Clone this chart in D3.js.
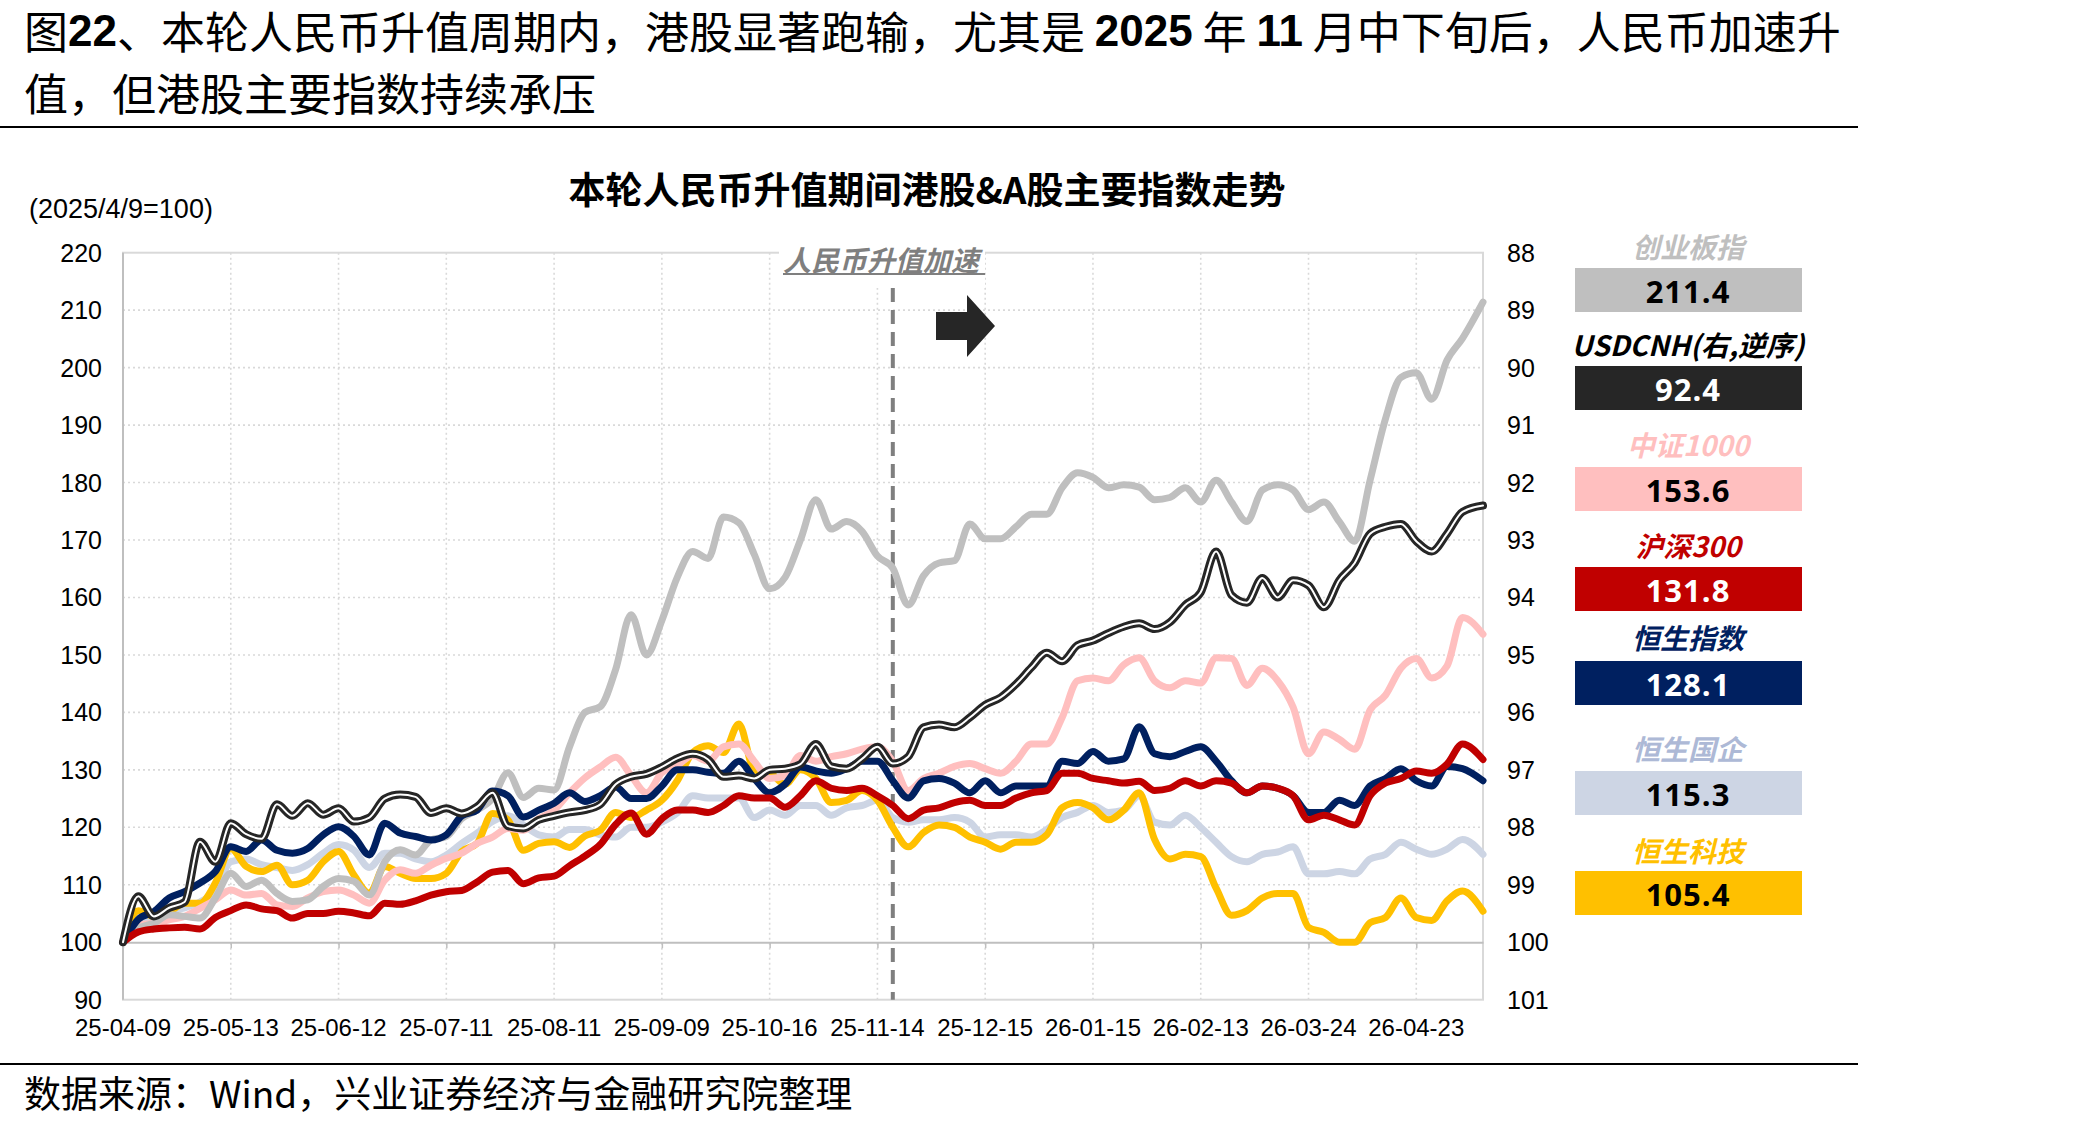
<!DOCTYPE html>
<html>
<head>
<meta charset="utf-8">
<script src="https://cdn.jsdelivr.net/npm/d3@7"></script>
<style>
  body { margin: 0; background: #fff; }
  svg { display: block; }
  text { font-family: "Liberation Sans", Arial, sans-serif; }
  .cjk { font-family: "Noto Sans CJK SC", "Liberation Sans", sans-serif; }
</style>
</head>
<body>
<svg id="chart" width="2073" height="1127"></svg>
<script>
// ---- data (one value every 3 trading days from 2025-04-09) ----
const xTickLabels = ['25-04-09', '25-05-13', '25-06-12', '25-07-11', '25-08-11', '25-09-09', '25-10-16',
  '25-11-14', '25-12-15', '26-01-15', '26-02-13', '26-03-24', '26-04-23']
const leftTicks = [90, 100, 110, 120, 130, 140, 150, 160, 170, 180, 190, 200, 210, 220]
const rightTicks = [88, 89, 90, 91, 92, 93, 94, 95, 96, 97, 98, 99, 100, 101]

// 创业板指
const chinext = [100, 102.4, 103.3, 104.8, 104.5, 104.2, 107.7, 112.0, 109.7, 110.8,
  108.5, 107.1, 107.4, 109.7, 111.1, 110.6, 108.2, 114.0, 116.1, 115.2,
  117.8, 118.4, 121.5, 123.0, 125.0, 129.5, 125.2, 126.8, 126.5, 134.0,
  140.0, 141.0, 147.5, 157.0, 150.0, 156.0, 163.5, 168.0, 166.8, 174.0,
  173.0, 167.5, 161.5, 163.5, 170.0, 177.0, 171.9, 173.2, 171.5, 167.2,
  165.1, 158.7, 163.8, 166.0, 166.4, 172.8, 170.2, 170.2, 172.3, 174.5,
  174.5, 179.1, 181.7, 180.9, 179.1, 179.6, 179.2, 177.0, 177.4, 179.1,
  176.6, 180.4, 176.6, 173.2, 178.7, 179.6, 178.7, 175.3, 176.6, 173.2,
  169.8, 180.4, 191.1, 198.3, 199.1, 194.5, 201.3, 205.1, 211.4]
// USDCNH, right axis (reversed)
const usdcnh = [100.00, 99.20, 99.55, 99.40, 99.30, 98.25, 98.60, 97.93, 98.12, 98.20,
  97.60, 97.80, 97.58, 97.78, 97.67, 97.90, 97.83, 97.50, 97.43, 97.47,
  97.75, 97.67, 97.76, 97.64, 97.40, 97.98, 98.02, 97.87, 97.80, 97.74,
  97.70, 97.60, 97.25, 97.12, 97.07, 96.95, 96.80, 96.72, 96.82, 97.12,
  97.10, 97.15, 97.00, 96.98, 96.90, 96.55, 96.94, 96.98, 96.81, 96.60,
  96.89, 96.77, 96.26, 96.21, 96.26, 96.09, 95.87, 95.74, 95.51, 95.22,
  94.96, 95.11, 94.83, 94.75, 94.62, 94.51, 94.45, 94.55, 94.43, 94.13,
  93.91, 93.20, 93.96, 94.09, 93.66, 94.00, 93.70, 93.79, 94.17, 93.70,
  93.40, 92.89, 92.77, 92.72, 93.02, 93.20, 92.89, 92.51, 92.40]
// 中证1000
const csi1000 = [100, 103.0, 103.3, 103.9, 104.5, 105.9, 107.4, 109.1, 108.2, 108.5,
  106.5, 106.2, 107.7, 108.8, 109.1, 108.2, 106.8, 110.8, 112.6, 112.0,
  113.4, 114.6, 115.5, 117.2, 118.3, 119.8, 119.5, 121.5, 123.0, 126.0,
  128.6, 130.5, 132.2, 129.0, 126.0, 129.5, 130.8, 132.5, 131.5, 134.0,
  134.5, 131.5, 128.5, 129.0, 132.5, 131.5, 132.3, 132.8, 133.6, 134.0,
  131.5, 126.4, 128.5, 129.4, 130.6, 131.1, 130.2, 129.4, 131.5, 134.5,
  134.5, 139.1, 145.5, 146.0, 145.5, 148.3, 149.5, 145.5, 144.3, 145.5,
  145.1, 149.5, 149.4, 144.7, 147.7, 145.5, 140.9, 132.8, 136.6, 135.3,
  133.6, 140.4, 143.0, 147.7, 149.4, 146.0, 148.1, 156.5, 153.6]
// 沪深300
const hs300 = [100, 101.8, 102.3, 102.5, 102.6, 102.3, 104.3, 105.5, 106.5, 105.8,
  105.5, 104.2, 105.0, 105.0, 105.4, 105.1, 104.6, 106.8, 106.6, 107.2,
  108.2, 108.8, 109.0, 110.5, 112.2, 112.5, 110.2, 111.2, 111.5, 113.3,
  115.0, 117.0, 120.5, 122.5, 118.8, 121.5, 123.0, 123.0, 122.6, 123.8,
  125.5, 125.1, 125.1, 123.5, 125.5, 128.1, 126.8, 126.4, 126.8, 125.5,
  123.8, 121.5, 123.0, 123.4, 124.3, 124.7, 123.8, 123.8, 125.1, 126.0,
  126.4, 129.4, 129.4, 128.5, 128.1, 127.7, 128.0, 126.4, 126.8, 128.1,
  127.2, 128.1, 127.7, 126.0, 127.2, 126.8, 125.5, 121.3, 122.1, 121.3,
  120.4, 125.5, 127.7, 128.5, 129.8, 129.4, 131.0, 134.5, 131.8]
// 恒生指数
const hsi = [100, 104.0, 105.3, 107.7, 108.8, 110.3, 112.3, 116.6, 115.8, 117.8,
  116.0, 115.5, 116.3, 118.7, 120.1, 118.4, 115.2, 120.7, 119.0, 118.4,
  117.8, 118.7, 122.0, 123.0, 126.3, 125.5, 121.8, 123.0, 124.2, 126.0,
  124.5, 125.5, 127.0, 125.0, 125.0, 127.2, 130.0, 130.0, 129.6, 129.4,
  131.5, 128.5, 126.0, 127.5, 130.5, 129.8, 129.4, 130.2, 131.5, 131.5,
  128.1, 125.1, 128.1, 128.5, 127.7, 126.0, 128.1, 126.0, 127.2, 127.2,
  127.2, 131.5, 131.1, 133.2, 131.5, 131.9, 137.5, 132.8, 132.3, 133.2,
  134.0, 131.5, 128.1, 126.0, 127.2, 126.8, 125.5, 122.6, 122.6, 124.7,
  123.8, 127.2, 128.5, 130.2, 128.1, 127.2, 130.6, 130.2, 128.1]
// 恒生国企
const hscei = [100, 103.0, 104.2, 105.5, 106.0, 107.0, 109.0, 114.0, 114.5, 113.5,
  113.0, 112.5, 113.5, 115.5, 117.0, 116.0, 113.0, 115.5, 115.5, 114.5,
  114.0, 115.2, 117.2, 119.0, 121.0, 122.0, 120.4, 118.7, 118.3, 119.6,
  119.6, 118.7, 118.3, 120.0, 120.0, 120.9, 122.5, 125.5, 125.1, 125.1,
  125.1, 121.7, 123.0, 122.1, 123.8, 123.8, 122.1, 123.4, 123.8, 124.7,
  121.7, 120.9, 121.3, 121.3, 121.7, 120.9, 118.3, 118.7, 118.7, 118.3,
  119.6, 121.7, 122.6, 123.8, 122.6, 123.0, 125.5, 120.9, 120.4, 122.1,
  120.0, 117.4, 114.9, 114.0, 115.3, 115.7, 116.6, 111.9, 111.9, 112.3,
  111.9, 114.5, 115.3, 117.4, 116.2, 115.3, 116.2, 117.9, 115.3]
// 恒生科技
const hstech = [100, 105.5, 104.5, 105.3, 106.8, 106.8, 110.3, 116.3, 113.2, 112.3,
  113.4, 110.0, 110.8, 114.0, 115.8, 111.7, 108.5, 113.2, 112.0, 111.1,
  111.1, 112.0, 115.8, 117.2, 122.4, 121.3, 116.0, 117.2, 117.5, 116.5,
  118.5, 119.5, 122.6, 121.7, 123.0, 124.7, 128.1, 133.0, 134.2, 133.0,
  138.0, 130.0, 129.5, 127.5, 130.0, 128.5, 124.3, 124.7, 126.4, 124.7,
  120.0, 116.6, 119.1, 120.4, 120.0, 118.3, 117.4, 116.2, 117.4, 117.4,
  118.7, 123.4, 124.3, 123.4, 121.3, 123.0, 126.0, 117.9, 114.5, 115.3,
  114.9, 109.4, 104.7, 105.5, 107.7, 108.5, 108.5, 102.6, 101.7, 100.0,
  100.0, 103.4, 104.3, 107.7, 104.3, 103.8, 107.2, 108.9, 105.4]

// trading-day index of each sample; ticks every 21 trading days
const sampleDay = d3.range(0, 262, 3).concat(265)
const tickDay = xTickLabels.map((d, i) => i * 21)
const accelDay = 150   // 人民币升值加速 starts here

// ---- styles ----
const series = [
  {name: '恒生国企', values: hscei, color: '#CDD5E4', label: '#ADB9D6', txt: '#000', axis: 'L'},
  {name: '恒生科技', values: hstech, color: '#FFC000', label: '#FFC000', txt: '#000', axis: 'L'},
  {name: '中证1000', values: csi1000, color: '#FFBFBF', label: '#FFBFBF', txt: '#000', axis: 'L'},
  {name: '创业板指', values: chinext, color: '#BFBFBF', label: '#BFBFBF', txt: '#000', axis: 'L'},
  {name: '恒生指数', values: hsi, color: '#002060', label: '#002060', txt: '#fff', axis: 'L'},
  {name: '沪深300', values: hs300, color: '#C00000', label: '#C00000', txt: '#fff', axis: 'L'},
  {name: 'USDCNH(右,逆序)', values: usdcnh, color: '#262626', label: '#000', txt: '#fff', axis: 'R'}
]
const legendOrder = ['创业板指', 'USDCNH(右,逆序)', '中证1000', '沪深300', '恒生指数', '恒生国企', '恒生科技']
const legendLabelY = [246, 344, 444, 545, 637, 748, 850]
const legendBoxY = [268, 366, 467, 567, 661, 771, 871]

const svg = d3.select('#chart')
const plotL = 123, plotR = 1483, plotT = 252.7, plotB = 999.7

svg.append('rect').attr('width', 2073).attr('height', 1127).attr('fill', '#fff')

const x = d3.scaleLinear().domain([0, 265]).range([plotL, plotR])
const y = d3.scaleLinear().domain([90, 220]).range([plotB, plotT])
const yR = d3.scaleLinear().domain([101, 88]).range([plotB, plotT])

// header
const t1 = svg.append('text').attr('class', 'cjk').attr('x', 24).attr('y', 30)
  .attr('dominant-baseline', 'central').attr('font-size', 44).attr('fill', '#000')
const t1parts = [['图', 0], ['22', 1], ['、本轮人民币升值周期内，港股显著跑输，尤其是 ', 0], ['2025', 1],
  [' 年 ', 0], ['11', 1], [' 月中下旬后，人民币加速升', 0]]
t1parts.forEach(p => {
  t1.append('tspan').text(p[0])
    .attr('font-weight', p[1] ? 'bold' : 'normal')
    .style('font-family', p[1] ? '"Liberation Sans", Arial, sans-serif' : null)
})
svg.append('text').attr('class', 'cjk').attr('x', 24).attr('y', 92)
  .attr('dominant-baseline', 'central').attr('font-size', 44).attr('fill', '#000')
  .text('值，但港股主要指数持续承压')
svg.append('line').attr('x1', 0).attr('x2', 1858).attr('y1', 127).attr('y2', 127)
  .attr('stroke', '#000').attr('stroke-width', 2)
svg.append('line').attr('x1', 0).attr('x2', 1858).attr('y1', 1064).attr('y2', 1064)
  .attr('stroke', '#000').attr('stroke-width', 2)
svg.append('text').attr('class', 'cjk').attr('x', 24).attr('y', 1092)
  .attr('dominant-baseline', 'central').attr('font-size', 37).attr('fill', '#000')
  .text('数据来源：Wind，兴业证券经济与金融研究院整理')

// chart title + unit
svg.append('text').attr('class', 'cjk').attr('x', 927).attr('y', 188)
  .attr('text-anchor', 'middle').attr('dominant-baseline', 'central')
  .attr('font-size', 37).attr('font-weight', 'bold').text('本轮人民币升值期间港股&A股主要指数走势')
svg.append('text').attr('x', 29).attr('y', 209).attr('dominant-baseline', 'central')
  .attr('font-size', 27).text('(2025/4/9=100)')

// grid
const grid = svg.append('g')
grid.selectAll('line.h').data(leftTicks.filter(v => v > 90 && v < 220 && v !== 100)).enter()
  .append('line').attr('x1', plotL).attr('x2', plotR)
  .attr('y1', d => y(d)).attr('y2', d => y(d))
  .attr('stroke', '#D9D9D9').attr('stroke-width', 1.6).attr('stroke-dasharray', '2,3')
grid.selectAll('line.v').data(tickDay.slice(1)).enter()
  .append('line').attr('x1', d => x(d)).attr('x2', d => x(d))
  .attr('y1', plotT).attr('y2', plotB)
  .attr('stroke', '#D9D9D9').attr('stroke-width', 1.6).attr('stroke-dasharray', '2,3')
// frame
svg.append('rect').attr('x', plotL).attr('y', plotT).attr('width', plotR - plotL).attr('height', plotB - plotT)
  .attr('fill', 'none').attr('stroke', '#D9D9D9').attr('stroke-width', 2)
svg.append('line').attr('x1', plotL).attr('x2', plotL).attr('y1', plotT).attr('y2', plotB)
  .attr('stroke', '#BFBFBF').attr('stroke-width', 2)

// x axis sits on 100
const xAxis = svg.append('g').attr('transform', `translate(0,${y(100)})`)
  .call(d3.axisBottom(x).tickValues(tickDay).tickFormat('').tickSizeInner(6).tickSizeOuter(0))
xAxis.select('.domain').attr('stroke', '#BFBFBF').attr('stroke-width', 2)
xAxis.selectAll('.tick line').attr('stroke', '#BFBFBF').attr('stroke-width', 1.5)

// tick labels
svg.append('g').selectAll('text').data(tickDay).enter().append('text')
  .attr('x', d => x(d)).attr('y', 1027).attr('text-anchor', 'middle').attr('dominant-baseline', 'central')
  .attr('font-size', 24).text((d, i) => xTickLabels[i])
svg.append('g').selectAll('text').data(leftTicks).enter().append('text')
  .attr('x', 102).attr('y', d => y(d)).attr('text-anchor', 'end').attr('dominant-baseline', 'central')
  .attr('font-size', 25).text(d => d)
svg.append('g').selectAll('text').data(rightTicks).enter().append('text')
  .attr('x', 1507).attr('y', d => yR(d)).attr('dominant-baseline', 'central')
  .attr('font-size', 25).text(d => d)

// annotation
svg.append('rect').attr('x', 779).attr('y', 236).attr('width', 206).attr('height', 52).attr('fill', '#fff')
svg.append('text').attr('class', 'cjk').attr('x', 783).attr('y', 259)
  .attr('dominant-baseline', 'central').attr('font-size', 28).attr('font-weight', 'bold')
  .attr('font-style', 'italic').attr('fill', '#7F7F7F').text('人民币升值加速')
svg.append('line').attr('x1', 783).attr('x2', 985).attr('y1', 274).attr('y2', 274)
  .attr('stroke', '#7F7F7F').attr('stroke-width', 2)
svg.append('line').attr('x1', x(accelDay)).attr('x2', x(accelDay)).attr('y1', 288).attr('y2', plotB)
  .attr('stroke', '#7F7F7F').attr('stroke-width', 4).attr('stroke-dasharray', '14,8')
svg.append('path').attr('fill', '#262626')
  .attr('d', 'M936,312 L967,312 L967,295 L995,326 L967,357 L967,340 L936,340 Z')

// lines
const lineL = d3.line().x((d, i) => x(sampleDay[i])).y(d => y(d)).curve(d3.curveMonotoneX)
const lineR = d3.line().x((d, i) => x(sampleDay[i])).y(d => yR(d)).curve(d3.curveMonotoneX)
const lines = svg.append('g').attr('fill', 'none').attr('stroke-linejoin', 'round').attr('stroke-linecap', 'round')
series.forEach(s => {
  const gen = s.axis === 'R' ? lineR : lineL
  lines.append('path').datum(s.values).attr('d', gen)
    .attr('stroke', s.color).attr('stroke-width', s.axis === 'R' ? 8 : 7)
  if (s.axis === 'R') {
    lines.append('path').datum(s.values).attr('d', gen)
      .attr('stroke', '#fff').attr('stroke-width', 2)
  }
})

// legend
const legend = svg.append('g')
legendOrder.forEach((name, i) => {
  const s = series.find(d => d.name === name)
  legend.append('text').attr('class', 'cjk').attr('x', 1688).attr('y', legendLabelY[i])
    .attr('text-anchor', 'middle').attr('dominant-baseline', 'central')
    .attr('font-size', 28).attr('font-weight', 'bold').attr('font-style', 'italic')
    .attr('fill', s.label).text(name)
  legend.append('rect').attr('x', 1575).attr('y', legendBoxY[i]).attr('width', 227).attr('height', 44)
    .attr('fill', s.color)
  legend.append('text').attr('x', 1688).attr('y', legendBoxY[i] + 23)
    .attr('text-anchor', 'middle').attr('dominant-baseline', 'central')
    .style('font-family', '"Open Sans", "Noto Sans", sans-serif')
    .attr('font-size', 31).attr('font-weight', 'bold').attr('letter-spacing', 1)
    .attr('fill', s.txt).text(s.values[s.values.length - 1].toFixed(1))
})
</script>
</body>
</html>
